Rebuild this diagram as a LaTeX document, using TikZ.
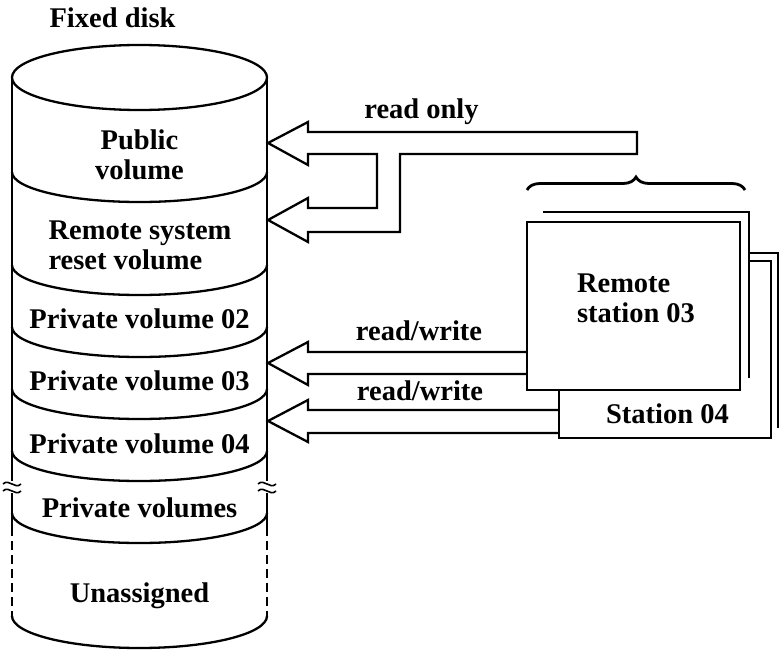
\documentclass[tikz,border=0pt]{standalone}
\usepackage{fontspec}
\setmainfont{Liberation Serif}
\usetikzlibrary{decorations.pathreplacing}
\begin{document}
\begin{tikzpicture}[x=1pt,y=1pt,
  ln/.style={line width=2.3pt},
  lbl/.style={font=\bfseries\fontsize{28.5}{30}\selectfont, inner sep=0pt, anchor=base},
  blk/.style={font=\bfseries\fontsize{28.5}{30}\selectfont, inner sep=0pt, anchor=center},
]
\useasboundingbox (0,0) rectangle (779,-650);

% ---------- cylinder ----------
\draw[ln] (139.5,-77.5) ellipse [x radius=127.5, y radius=32.5];
\foreach \c in {172,265,327,389,451,513}
  \draw[ln] (12,-\c) arc[start angle=180,end angle=360,x radius=127.5,y radius=30];
\draw[ln] (12,-616) arc[start angle=180,end angle=360,x radius=127.5,y radius=32];
\foreach \x in {12,267}{
  \draw[ln] (\x,-77.5) -- (\x,-481);
  \draw[ln] (\x,-493) -- (\x,-527);
  \draw[ln, dash pattern=on 9pt off 5pt] (\x,-527) -- (\x,-616);
  \foreach \y in {484,491}
    \draw[line width=1.6pt] ({\x-9},{-\y}) .. controls ({\x-3},{-\y+6}) and ({\x+3},{-\y-6}) .. ({\x+9},{-\y});
}

\node[lbl] (fixed) at (112.5,-28) {Fixed disk};
\node[blk, align=center] (pub) at (139.5,-155) {Public\\volume};
\node[blk, align=left] (reset) at (140,-245) {Remote system\\reset volume};
\node[lbl] (pv2) at (139.5,-328) {Private volume 02};
\node[lbl] (pv3) at (139.5,-390) {Private volume 03};
\node[lbl] (pv4) at (139.5,-453) {Private volume 04};
\node[lbl] (pvs) at (139.5,-517) {Private volumes};
\node[lbl] (una) at (139.5,-602) {Unassigned};

% ---------- stations ----------
\draw[ln] (543,-212) -| (749,-378);
\draw[ln] (749,-253) -| (778,-428);
\draw[ln] (749,-261) -| (771,-438) -| (559,-390);
\node[draw, ln, fill=white, minimum width=213pt, minimum height=168pt, inner sep=0pt] (st3) at (633.5,-306) {};
\node[blk, align=left] (st3t) at (636,-298) {Remote\\station 03};
\node[lbl] (st4t) at (667.5,-423) {Station 04};
\draw[line width=2.8pt, decorate, decoration={brace, amplitude=13pt}] (527,-190) -- (745,-190);

% ---------- block arrows ----------
\draw[ln] (268,-143) -- (308,-122) -- (308,-132) -- (637,-132) -- (637,-154)
  -- (400,-154) -- (400,-232) -- (308,-232) -- (308,-242) -- (268,-220)
  -- (308,-198) -- (308,-208) -- (377,-208) -- (377,-154) -- (308,-154)
  -- (308,-165) -- cycle;
\node[lbl] (ro) at (421.5,-119) {read only};

\draw[ln] (st3.west |- 0,-352) -- (308,-352) -- (308,-342) -- (268,-363)
  -- (308,-385) -- (308,-374) -- (st3.west |- 0,-374);
\node[lbl] (rw1) at (419,-340) {read/write};

\draw[ln] (559,-410) -- (308,-410) -- (308,-400) -- (268,-421)
  -- (308,-442) -- (308,-433) -- (559,-433);
\node[lbl] (rw2) at (420,-400) {read/write};
\end{tikzpicture}
\end{document}
